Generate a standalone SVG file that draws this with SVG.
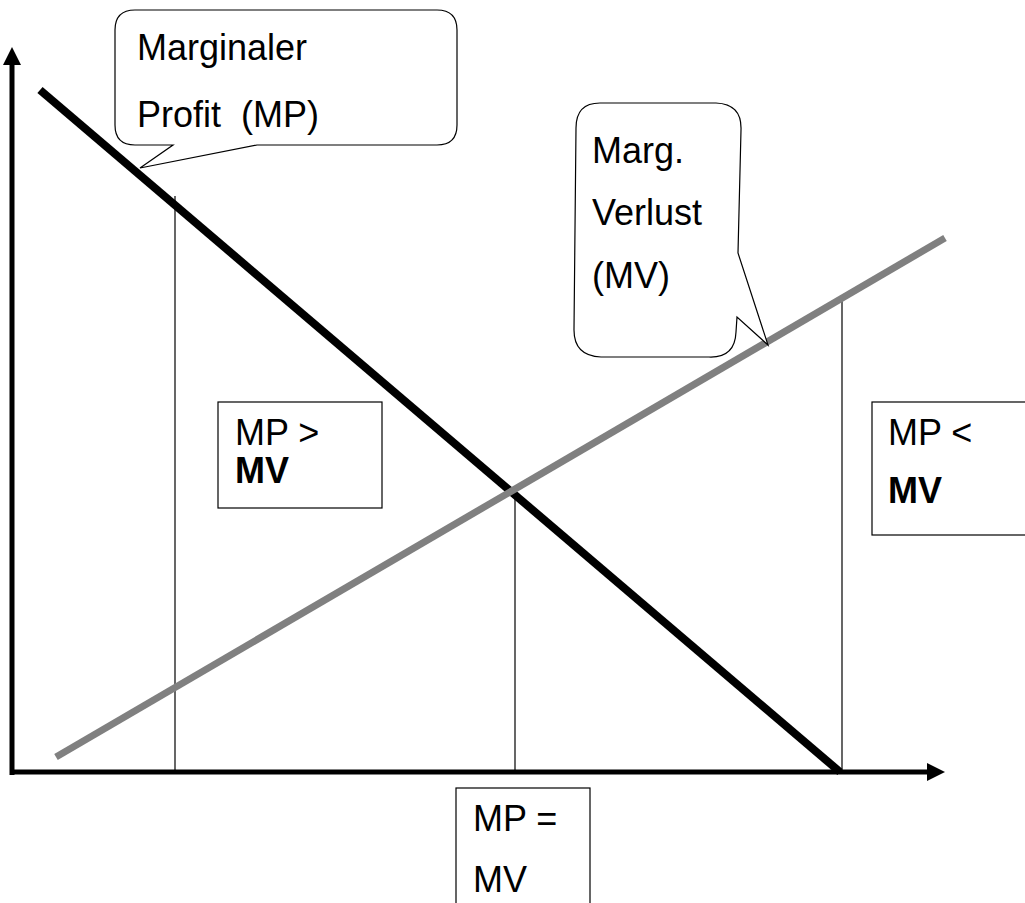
<svg xmlns="http://www.w3.org/2000/svg" width="1025" height="903" viewBox="0 0 1025 903">
  <style>
    .axis { stroke: #000; stroke-width: 5; fill: none; }
    .thin { stroke: #000; stroke-width: 1.2; fill: none; }
    .box { fill: #fff; stroke: #000; stroke-width: 1.2; }
    .txt { font-family: "Liberation Sans", Arial, sans-serif; font-size: 36px; fill: #000; white-space: pre; }
    .b { font-weight: bold; }
  </style>
  <defs>
    <marker id="arrow" markerUnits="userSpaceOnUse" markerWidth="20" markerHeight="20" refX="2" refY="9" orient="auto">
      <path d="M0,0 L18,9 L0,18 z" fill="#000"/>
    </marker>
  </defs>
  <rect width="1025" height="903" fill="#fff"/>

  <g id="connectors">
    <line class="axis" x1="12" y1="775" x2="12" y2="63" marker-end="url(#arrow)"/>
    <line class="axis" x1="10" y1="772" x2="929" y2="772" marker-end="url(#arrow)"/>
    <line class="thin" x1="175" y1="196" x2="175" y2="772"/>
    <line class="thin" x1="515" y1="488" x2="515" y2="772"/>
    <line class="thin" x1="842" y1="297" x2="842" y2="772"/>
    <line x1="40" y1="90" x2="840" y2="772" stroke="#000" stroke-width="8"/>
    <line x1="56" y1="757" x2="945" y2="238" stroke="#808080" stroke-width="7"/>
  </g>

  <g id="callout-mp">
    <path class="box" d="M135,10 H437 Q457,10 457,30 V125 Q457,145 437,145 H257 L140,168 L173,145 H135 Q115,145 115,125 V30 Q115,10 135,10 Z"/>
    <text class="txt" x="137" y="60">Marginaler</text>
    <text class="txt" x="137" y="127" xml:space="preserve">Profit  (MP)</text>
  </g>

  <g id="callout-mv">
    <path class="box" d="M600,103 H716 Q742,104 741,130 L738,253 L768,345 L737,317 L736,332 Q735,358 709,357 H601 Q574,356 574,330 L576,128 Q576,103 600,103 Z"/>
    <text class="txt" x="592" y="163">Marg.</text>
    <text class="txt" x="592" y="225">Verlust</text>
    <text class="txt" x="592" y="288">(MV)</text>
  </g>

  <g id="box-mp-gt">
    <rect class="box" x="218" y="402" width="164" height="106"/>
    <text class="txt" x="235" y="445">MP &gt;</text>
    <text class="txt b" x="235" y="483">MV</text>
  </g>

  <g id="box-mp-lt">
    <rect class="box" x="872" y="402" width="170" height="133"/>
    <text class="txt" x="888" y="445">MP &lt;</text>
    <text class="txt b" x="888" y="503">MV</text>
  </g>

  <g id="box-mp-eq">
    <rect class="box" x="456" y="788" width="134" height="130"/>
    <text class="txt" x="473" y="831">MP =</text>
    <text class="txt" x="473" y="892">MV</text>
  </g>
</svg>
